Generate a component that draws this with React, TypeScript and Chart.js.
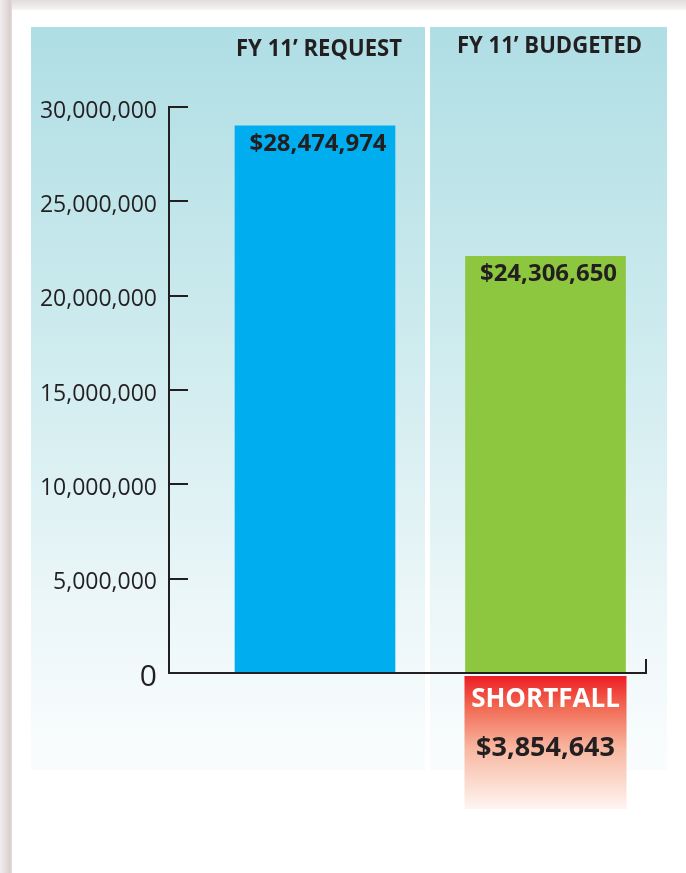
import React, { useEffect, useRef } from 'react';
import { Chart, registerables } from 'chart.js';

Chart.register(...registerables);

// ---- data ----
const CATEGORIES = ['FY 11’ REQUEST', 'FY 11’ BUDGETED'];
const BAR_VALUES = [29000000, 22080000];
const BAR_LABELS = ['$28,474,974', '$24,306,650'];
const BAR_COLORS = ['#00AEEF', '#8DC63F'];
const Y_TICKS = [0, 5000000, 10000000, 15000000, 20000000, 25000000, 30000000];
const SHORTFALL_TITLE = 'SHORTFALL';
const SHORTFALL_LABEL = '$3,854,643';

const FONT = '"Open Sans", "Noto Sans", sans-serif';
const INK = '#231F20';

const decorPlugin = {
  id: 'decor',
  beforeDraw(chart: any) {
    const { ctx, width, height } = chart;
    ctx.save();
    ctx.fillStyle = '#FFFFFF';
    ctx.fillRect(0, 0, width, height);
    // top shadow
    let g = ctx.createLinearGradient(0, 0, 0, 10);
    g.addColorStop(0, 'rgb(226,221,221)');
    g.addColorStop(1, 'rgb(246,244,244)');
    ctx.fillStyle = g;
    ctx.fillRect(0, 0, width, 10);
    // left shadow
    g = ctx.createLinearGradient(0, 0, 12, 0);
    g.addColorStop(0, 'rgb(242,238,238)');
    g.addColorStop(0.85, 'rgb(218,206,206)');
    g.addColorStop(1, 'rgb(230,222,222)');
    ctx.fillStyle = g;
    ctx.fillRect(0, 0, 12, height);
    // panel
    g = ctx.createLinearGradient(0, 27, 0, 770);
    g.addColorStop(0, 'rgb(175,222,228)');
    g.addColorStop(0.45, 'rgb(208,236,239)');
    g.addColorStop(0.8, 'rgb(237,247,249)');
    g.addColorStop(1, 'rgb(250,253,253)');
    ctx.fillStyle = g;
    ctx.fillRect(31, 27, 636, 743);
    // divider
    ctx.fillStyle = '#FFFFFF';
    ctx.fillRect(425, 27, 5, 743);
    ctx.restore();
  },
  afterDatasetsDraw(chart: any) {
    const { ctx } = chart;
    const y = chart.scales.y;
    const x = chart.scales.x;
    const y0 = y.getPixelForValue(0);
    ctx.save();
    ctx.strokeStyle = '#231F20';
    ctx.lineWidth = 2;
    // inner tick marks
    y.ticks.forEach((t: any) => {
      const py = Math.round(y.getPixelForValue(t.value));
      ctx.beginPath();
      ctx.moveTo(y.right - 1, py);
      ctx.lineTo(y.right + 19, py);
      ctx.stroke();
    });
    // bottom axis with upturned end
    ctx.beginPath();
    ctx.moveTo(y.right - 1, Math.round(y0));
    ctx.lineTo(x.right, Math.round(y0));
    ctx.lineTo(x.right, Math.round(y0) - 14);
    ctx.stroke();

    const meta = chart.getDatasetMeta(0);
    // headers (condensed bold)
    ctx.fillStyle = INK;
    ctx.textAlign = 'center';
    ctx.textBaseline = 'middle';
    ctx.font = `700 23px ${FONT}`;
    const w0 = ctx.measureText(CATEGORIES[0]).width;
    const sx = 166 / w0;
    CATEGORIES.forEach((c, i) => {
      const bar = meta.data[i];
      ctx.save();
      ctx.translate(bar.x + 4, i === 0 ? 49 : 46);
      ctx.scale(sx, 1);
      ctx.fillText(c, 0, 0);
      ctx.restore();
    });
    // value labels
    ctx.font = `700 24px ${FONT}`;
    BAR_LABELS.forEach((l, i) => {
      const bar = meta.data[i];
      ctx.fillText(l, bar.x + 3, bar.y + 18);
    });
    // shortfall box under budgeted bar
    const b = meta.data[1];
    const left = b.x - b.width / 2 - 1;
    const right = b.x + b.width / 2 + 1;
    const top = y0 + 3;
    const bottom = top + 133;
    const g = ctx.createLinearGradient(0, top, 0, bottom);
    g.addColorStop(0, '#ED1C24');
    g.addColorStop(0.22, '#F1654F');
    g.addColorStop(0.55, '#F8B8A2');
    g.addColorStop(1, '#FEF5F1');
    ctx.fillStyle = g;
    ctx.fillRect(left, top, right - left, bottom - top);
    const cx = (left + right) / 2;
    ctx.fillStyle = '#FFFFFF';
    ctx.font = `700 26px ${FONT}`;
    ctx.fillText(SHORTFALL_TITLE, cx, top + 24);
    ctx.fillStyle = INK;
    ctx.font = `700 27px ${FONT}`;
    ctx.fillText(SHORTFALL_LABEL, cx, top + 72);
    ctx.restore();
  },
};

export default function App() {
  const ref = useRef<HTMLCanvasElement | null>(null);
  useEffect(() => {
    document.body.style.margin = '0';
    const canvas = ref.current;
    if (!canvas) return;
    const chart = new Chart(canvas, {
      type: 'bar',
      data: {
        datasets: [
          {
            data: BAR_VALUES.map((v, i) => ({ x: i, y: v })),
            backgroundColor: BAR_COLORS,
            barThickness: 160,
            borderWidth: 0,
          },
        ],
      },
      options: {
        animation: false,
        responsive: false,
        devicePixelRatio: 1,
        layout: { padding: { left: 0, right: 40, top: 107, bottom: 200 } },
        plugins: { legend: { display: false }, tooltip: { enabled: false } },
        scales: {
          x: {
            type: 'linear',
            min: -0.6334,
            max: 1.436,
            offset: false,
            display: false,
          },
          y: {
            min: 0,
            max: 30000000,
            afterFit: (s: any) => {
              s.width = 169;
            },
            afterBuildTicks: (s: any) => {
              s.ticks = Y_TICKS.map((v) => ({ value: v }));
            },
            grid: { display: true, drawOnChartArea: false, drawTicks: false, color: 'rgba(0,0,0,0)' },
            border: { display: true, color: '#231F20', width: 2 },
            ticks: {
              padding: 12,
              labelOffset: 4,
              color: INK,
              font: (c: any) => ({
                family: FONT,
                size: c.tick && c.tick.value === 0 ? 30 : 23,
              }),
              callback: (v: any) => Number(v).toLocaleString('en-US'),
            },
          },
        },
      },
      plugins: [decorPlugin],
    });
    return () => chart.destroy();
  }, []);
  return <canvas ref={ref} width={686} height={873} style={{ display: 'block' }} />;
}
